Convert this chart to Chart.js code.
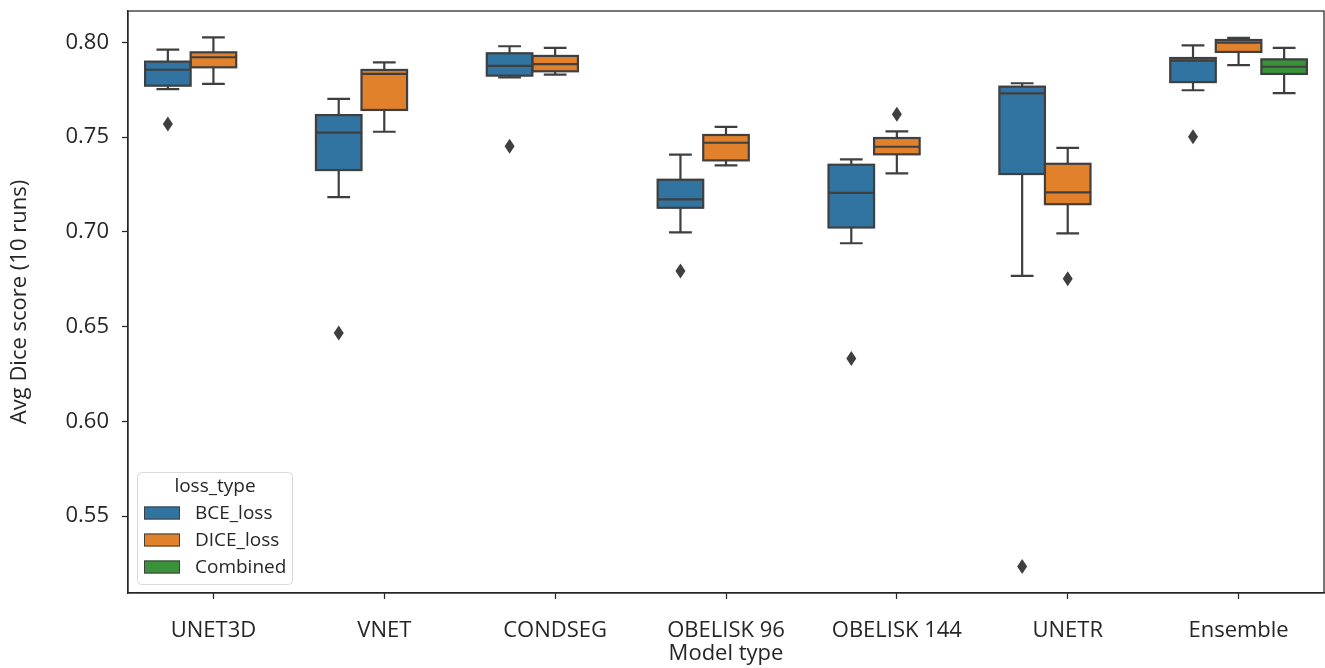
<!DOCTYPE html>
<html>
<head>
<meta charset="utf-8">
<script src="https://cdn.jsdelivr.net/npm/chart.js@4.4.1/dist/chart.umd.min.js"></script>
<style>
  html, body { margin: 0; padding: 0; background: #fff; }
</style>
</head>
<body>
<canvas id="box-chart" width="1325" height="668"></canvas>
<script>
const models = ['UNET3D', 'VNET', 'CONDSEG', 'OBELISK 96', 'OBELISK 144', 'UNETR', 'Ensemble'];
const lossTypes = ['BCE_loss', 'DICE_loss', 'Combined'];
const yTicks = [0.55, 0.60, 0.65, 0.70, 0.75, 0.80];

// [lower whisker, q1, median, q3, upper whisker] for each model
const bceStats = [
    [0.7753, 0.7771, 0.7855, 0.7898, 0.7961],
    [0.7183, 0.7326, 0.7523, 0.7616, 0.7701],
    [0.7815, 0.7824, 0.7876, 0.7942, 0.7979],
    [0.6997, 0.7127, 0.7171, 0.7275, 0.7407],
    [0.6940, 0.7023, 0.7206, 0.7354, 0.7382],
    [0.6768, 0.7305, 0.7731, 0.7766, 0.7784],
    [0.7747, 0.7790, 0.7903, 0.7917, 0.7984]
];
const diceStats = [
    [0.7781, 0.7868, 0.7921, 0.7947, 0.8026],
    [0.7528, 0.7643, 0.7833, 0.7854, 0.7894],
    [0.7829, 0.7847, 0.7885, 0.7928, 0.7970],
    [0.7351, 0.7377, 0.7470, 0.7511, 0.7554],
    [0.7308, 0.7409, 0.7449, 0.7495, 0.7530],
    [0.6992, 0.7146, 0.7208, 0.7359, 0.7443],
    [0.7880, 0.7949, 0.7998, 0.8012, 0.8023]
];
const combinedStats = [null, null, null, null, null, null,
    [0.7732, 0.7833, 0.7871, 0.7910, 0.7970]
];

const bceOutliers = [[0.7569], [0.6467], [0.7452], [0.6794], [0.6332], [0.5235], [0.7502]];
const diceOutliers = [[], [], [], [], [0.7620], [0.6752], []];
const combinedOutliers = [[], [], [], [], [], [], []];

const colors = ['#3274a1', '#e1812c', '#3a923a'];
const lineColor = '#3f3f3f';
const axisColor = '#262626';
const fontFamily = "'Open Sans', 'Noto Sans', sans-serif";

const allStats = [bceStats, diceStats, combinedStats];
const allOutliers = [bceOutliers, diceOutliers, combinedOutliers];

const boxPlugin = {
    id: 'boxDetails',
    afterDatasetsDraw(chart) {
        const ctx = chart.ctx;
        const y = chart.scales.y;
        ctx.save();
        ctx.strokeStyle = lineColor;
        ctx.fillStyle = lineColor;
        ctx.lineWidth = 2.2;
        allStats.forEach((stats, d) => {
            const meta = chart.getDatasetMeta(d);
            stats.forEach((s, i) => {
                if (!s) return;
                const bar = meta.data[i];
                const x = bar.x;
                const w = bar.width;
                const [lo, q1, med, q3, hi] = s.map(v => y.getPixelForValue(v));
                ctx.beginPath();
                // whiskers
                ctx.moveTo(x, q3); ctx.lineTo(x, hi);
                ctx.moveTo(x - w / 4, hi); ctx.lineTo(x + w / 4, hi);
                ctx.moveTo(x, q1); ctx.lineTo(x, lo);
                ctx.moveTo(x - w / 4, lo); ctx.lineTo(x + w / 4, lo);
                // median
                ctx.moveTo(x - w / 2, med); ctx.lineTo(x + w / 2, med);
                ctx.stroke();
                ctx.strokeRect(x - w / 2, q3, w, q1 - q3);
                // outliers
                allOutliers[d][i].forEach(v => {
                    const py = y.getPixelForValue(v);
                    ctx.beginPath();
                    ctx.moveTo(x, py - 7.5);
                    ctx.lineTo(x + 5, py);
                    ctx.lineTo(x, py + 7.5);
                    ctx.lineTo(x - 5, py);
                    ctx.closePath();
                    ctx.fill();
                });
            });
        });
        ctx.restore();
    },
    afterDraw(chart) {
        const ctx = chart.ctx;
        const a = chart.chartArea;
        ctx.save();
        ctx.strokeStyle = axisColor;
        ctx.lineWidth = 1.25;
        ctx.strokeRect(a.left, a.top, a.right - a.left, a.bottom - a.top);

        // legend
        ctx.beginPath();
        ctx.roundRect(137.5, 472.5, 155, 112, 4);
        ctx.fillStyle = 'rgba(255,255,255,0.8)';
        ctx.fill();
        ctx.strokeStyle = '#d9d9d9';
        ctx.lineWidth = 1;
        ctx.stroke();
        ctx.font = '19px ' + fontFamily;
        ctx.fillStyle = axisColor;
        ctx.textBaseline = 'middle';
        ctx.textAlign = 'center';
        ctx.fillText('loss_type', 215, 487);
        ctx.textAlign = 'left';
        lossTypes.forEach((name, k) => {
            const ry = 513 + k * 27;
            ctx.fillStyle = colors[k];
            ctx.fillRect(144, ry - 6.5, 36, 13);
            ctx.strokeStyle = lineColor;
            ctx.strokeRect(144.5, ry - 6, 35, 12);
            ctx.fillStyle = axisColor;
            ctx.fillText(name, 195, ry + 1);
        });
        ctx.restore();
    }
};

const ctx = document.getElementById('box-chart');

new Chart(ctx, {
    type: 'bar',
    data: {
        labels: models,
        datasets: allStats.map((stats, d) => ({
            label: lossTypes[d],
            data: stats.map(s => s ? [s[1], s[3]] : null),
            backgroundColor: colors[d],
            borderWidth: 0,
            categoryPercentage: 0.8,
            barPercentage: 1.0
        }))
    },
    options: {
        responsive: false,
        animation: false,
        layout: {
            padding: { top: 11, right: 1, left: 0, bottom: 0 }
        },
        scales: {
            x: {
                afterFit: (scale) => {
                    scale.height = 75;
                    scale.paddingLeft = 0;
                    scale.paddingRight = 0;
                },
                grid: {
                    offset: false,
                    drawOnChartArea: false,
                    tickLength: 6,
                    tickWidth: 1.25,
                    color: axisColor
                },
                border: { color: axisColor, width: 1.25 },
                ticks: {
                    color: axisColor,
                    padding: 19,
                    font: { size: 22, family: fontFamily }
                },
                title: {
                    display: true,
                    text: 'Model type',
                    color: axisColor,
                    padding: { top: 0, bottom: 1 },
                    font: { size: 22, family: fontFamily }
                }
            },
            y: {
                min: 0.5095,
                max: 0.8165,
                afterFit: (scale) => {
                    scale.width = 128;
                    scale.paddingTop = 0;
                    scale.paddingBottom = 0;
                },
                afterBuildTicks: (scale) => {
                    scale.ticks = yTicks.map(v => ({ value: v }));
                },
                grid: {
                    drawOnChartArea: false,
                    tickLength: 6,
                    tickWidth: 1.25,
                    color: axisColor
                },
                border: { color: axisColor, width: 1.25 },
                ticks: {
                    color: axisColor,
                    padding: 13,
                    font: { size: 22, family: fontFamily },
                    callback: (value) => Number(value).toFixed(2)
                },
                title: {
                    display: true,
                    text: 'Avg Dice score (10 runs)',
                    color: axisColor,
                    padding: { top: 7, bottom: 0 },
                    font: { size: 22, family: fontFamily }
                }
            }
        },
        plugins: {
            legend: { display: false },
            title: { display: false },
            tooltip: { enabled: false }
        }
    },
    plugins: [boxPlugin]
});
</script>
</body>
</html>
